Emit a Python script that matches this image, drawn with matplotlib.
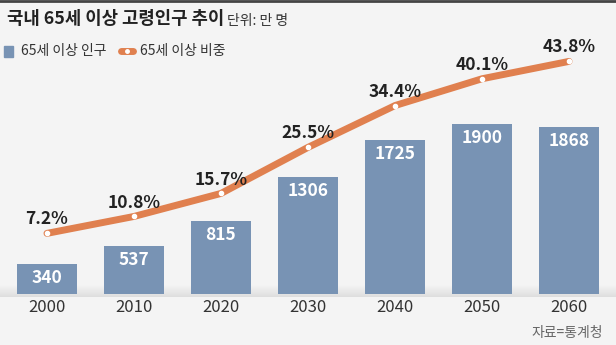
import numpy as np
import matplotlib.pyplot as plt

plt.rcParams['font.family'] = ['Noto Sans CJK KR', 'DejaVu Sans']

# Data
years = ["2000", "2010", "2020", "2030", "2040", "2050", "2060"]
population = [340, 537, 815, 1306, 1725, 1900, 1868]   # 만 명
share = [7.2, 10.8, 15.7, 25.5, 34.4, 40.1, 43.8]      # %

bar_color = "#7893b4"
line_color = "#e0804f"
bg = "#f4f4f4"

fig = plt.figure(figsize=(6.16, 3.45), dpi=100, facecolor=bg)

# shadow band at baseline
shade = fig.add_axes([0, (345 - 297) / 345, 1, 12 / 345])
grad = np.linspace(0, 1, 50).reshape(-1, 1)
shade.imshow(grad, aspect="auto", cmap=plt.matplotlib.colors.LinearSegmentedColormap.from_list(
    "s", ["#dedede", bg]), extent=[0, 1, 0, 1], origin="lower")
shade.axis("off")

ax = fig.add_axes([0, 51 / 345, 1, 294 / 345])
ax.patch.set_alpha(0)
x = np.arange(len(years))
ax.bar(x, population, width=0.69, color=bar_color, zorder=2)
ax.set_xlim(-0.54, 6.54)
ax.set_ylim(0, 294 / 0.0893)
for xi, v in zip(x, population):
    ax.annotate(str(v), (xi, v), xytext=(0, -10), textcoords="offset points",
                ha="center", va="center", color="white", fontsize=12.5,
                fontweight="bold", zorder=4)
ax.axis("off")

ax2 = ax.twinx()
ax2.set_ylim(-26.8 / 4.699, (294 - 26.8) / 4.699)
ax2.plot(x, share, color=line_color, lw=5, solid_capstyle="round", zorder=3)
ax2.scatter(x, share, s=9, color="white", zorder=4)
for xi, v in zip(x, share):
    ax2.annotate(f"{v}%", (xi, v), xytext=(0, 10), textcoords="offset points",
                 ha="center", va="center", color="#222222", fontsize=12.5,
                 fontweight="bold")
ax2.axis("off")

# year labels
for xi, y in zip(x, years):
    fig.text((47 + 87 * xi) / 616, 1 - 308 / 345, y, ha="center", va="center",
             fontsize=12, color="#333333")

# title and legend
fig.text(7 / 616, 1 - 19 / 345, "국내 65세 이상 고령인구 추이", fontsize=12.8,
         fontweight="bold", color="#222222", va="center")
fig.text(227 / 616, 1 - 21 / 345, "단위: 만 명", fontsize=10, color="#333333",
         va="center")
fig.patches.append(plt.Rectangle((4 / 616, 1 - 57 / 345), 9 / 616, 11 / 345,
                                 transform=fig.transFigure, color=bar_color))
fig.text(21 / 616, 1 - 51 / 345, "65세 이상 인구", fontsize=10, color="#333333",
         va="center")
fig.lines.append(plt.Line2D([121 / 616, 133 / 616], [1 - 51 / 345] * 2,
                            transform=fig.transFigure, color=line_color, lw=5,
                            solid_capstyle="round"))
fig.lines.append(plt.Line2D([127 / 616], [1 - 51 / 345], transform=fig.transFigure,
                            marker="o", ms=2.5, color="white", lw=0))
fig.text(140 / 616, 1 - 51 / 345, "65세 이상 비중", fontsize=10, color="#333333",
         va="center")

fig.text(603 / 616, 1 - 333 / 345, "자료=통계청", fontsize=10, color="#666666",
         ha="right", va="center")

# top rule
fig.lines.append(plt.Line2D([0, 1], [1 - 1 / 345] * 2, transform=fig.transFigure,
                            color="#444444", lw=2))

fig.savefig("out.png", dpi=100, facecolor=bg)
